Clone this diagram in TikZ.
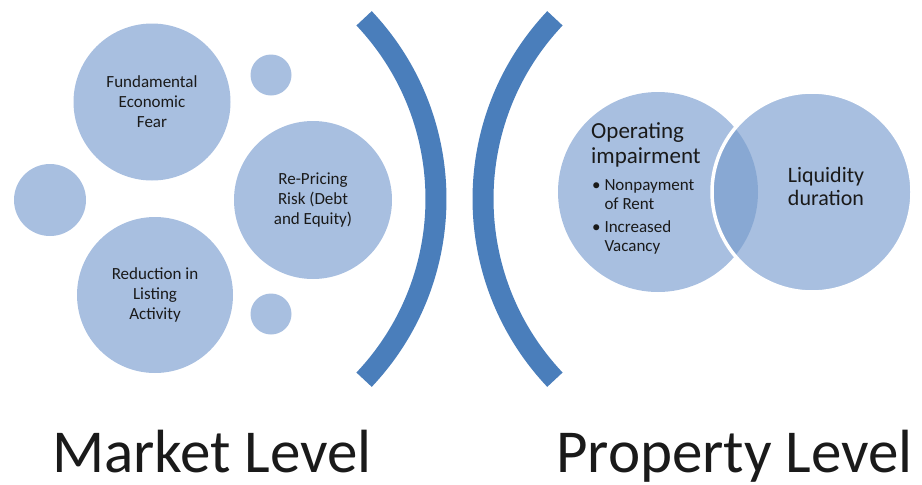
\documentclass[tikz,border=0pt]{standalone}
\usepackage{fontspec}
\setmainfont{Carlito}
\definecolor{bubble}{HTML}{A8BFE0}
\definecolor{lens}{HTML}{88A8D3}
\definecolor{bracket}{HTML}{4A7EBB}
\definecolor{ink}{HTML}{1A1A1A}

\begin{document}
\begin{tikzpicture}[x=1pt,y=-1pt,
  bubble/.style={circle,fill=bubble,inner sep=0pt,text=ink,align=center,
    font=\fontsize{17}{20}\selectfont},
  bracket/.style={draw=bracket,line width=21pt},
  level/.style={text=ink,inner sep=0pt,anchor=base west,font=\fontsize{61}{70}\selectfont}]
\useasboundingbox (0,0) rectangle (922,485);
% market side
\node[bubble,minimum size=157pt] (fear) at (152,102) {Fundamental\\Economic\\Fear};
\node[bubble,minimum size=158pt] (repricing) at (313,200) {Re-Pricing\\Risk (Debt\\and Equity)};
\node[bubble,minimum size=156pt] (listing) at (155,295) {Reduction in\\Listing\\Activity};
\node[bubble,minimum size=72pt] (dotleft) at (50,200) {};
\node[bubble,minimum size=41pt] (dottop) at (271,75) {};
\node[bubble,minimum size=41pt] (dotbottom) at (271,314) {};
% brackets
\draw[bracket] (173,199) ++(-43.4:263) arc[start angle=-43.4,end angle=43.4,radius=263];
\draw[bracket] (746,199) ++(136.6:263) arc[start angle=136.6,end angle=223.4,radius=263];
% property side
\node[bubble,minimum size=200pt] (oper) at (658,192) {};
\node[bubble,minimum size=200pt] (liq) at (812,192) {};
\begin{scope}
  \clip (oper.center) circle (100);
  \fill[lens] (liq.center) circle (100);
\end{scope}
\draw[white,line width=3.5pt] (liq.center) circle (100);
\node[text=ink,inner sep=0pt,anchor=north west,align=left,
  font=\fontsize{23}{25}\selectfont] (opertitle) at (591,122) {Operating\\impairment};
\node[text=ink,inner sep=0pt,anchor=north west,align=left,
  font=\fontsize{17}{19}\selectfont] (operlist) at (592,179)
  {\textbullet\ Nonpayment\\\hphantom{\textbullet\ }of Rent\\[4pt]
   \textbullet\ Increased\\\hphantom{\textbullet\ }Vacancy};
\node[text=ink,inner sep=0pt,align=center,
  font=\fontsize{22}{23}\selectfont] (liqtext) at (826,186) {Liquidity\\duration};
% levels
\node[level] (market) at (52,472) {Market Level};
\node[level] (property) at (556,472) {Property Level};
\end{tikzpicture}
\end{document}
